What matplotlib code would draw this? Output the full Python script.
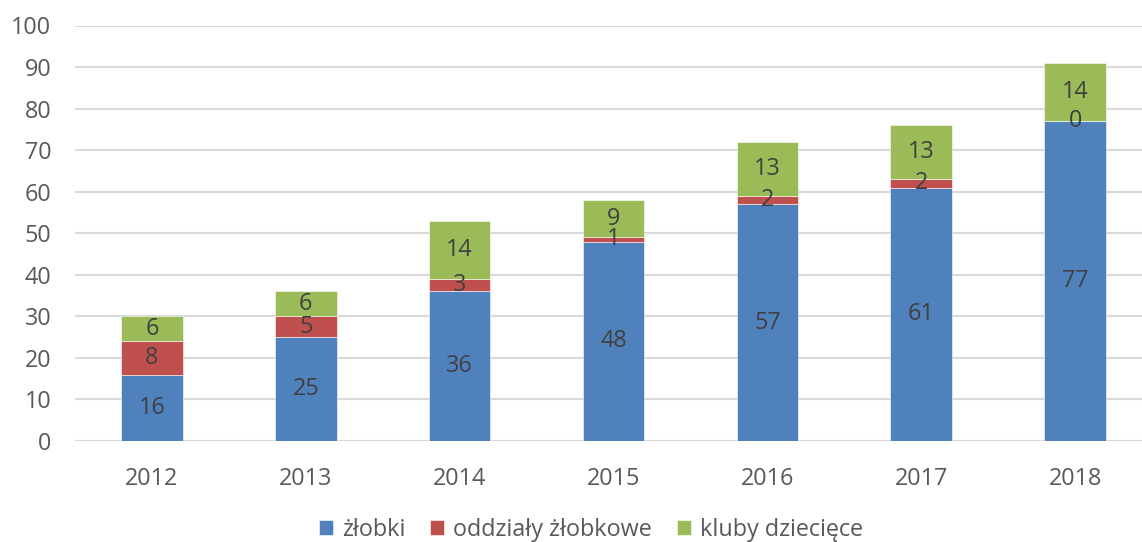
import matplotlib
matplotlib.use("Agg")
import matplotlib.pyplot as plt
import numpy as np

years = ["2012", "2013", "2014", "2015", "2016", "2017", "2018"]
zlobki = [16, 25, 36, 48, 57, 61, 77]
oddzialy = [8, 5, 3, 1, 2, 2, 0]
kluby = [6, 6, 14, 9, 13, 13, 14]
series_names = ["żłobki", "oddziały żłobkowe", "kluby dziecięce"]
colors = ["#4F81BD", "#C0504D", "#9BBB59"]

plt.rcParams["font.family"] = ["Open Sans", "DejaVu Sans"]
FS = 16.8

fig = plt.figure(figsize=(11.42, 5.42), dpi=100)
ax = fig.add_axes([75 / 1142, 1 - 441 / 542, 1077 / 1142, (441 - 25.5) / 542])

x = np.arange(len(years))
bottom = np.zeros(len(years))
for vals, name, col in zip([zlobki, oddzialy, kluby], series_names, colors):
    vals = np.array(vals, dtype=float)
    ax.bar(x, vals, width=0.4, bottom=bottom, color=col, label=name,
           edgecolor="white", linewidth=0.4, zorder=3)
    for xi, b, v in zip(x, bottom, vals):
        ax.text(xi, b + v / 2, f"{int(v)}", ha="center", va="center",
                fontsize=FS, color="#404040", zorder=4)
    bottom += vals

ax.set_xlim(-0.5, len(years) - 0.5)
ax.set_ylim(0, 100)
ax.set_yticks(np.arange(0, 101, 10))
ax.set_xticks(x)
ax.set_xticklabels(years)
ax.tick_params(axis="both", length=0, labelsize=FS, labelcolor="#595959")
ax.tick_params(axis="y", pad=17)
ax.tick_params(axis="x", pad=19)
ax.grid(axis="y", color="#D9D9D9", linewidth=1.5, zorder=0)
for s in ax.spines.values():
    s.set_visible(False)

fig.legend(loc="center", bbox_to_anchor=(591 / 1142, 1 - 530 / 542), ncol=3,
           frameon=False, fontsize=FS, handlelength=0.6, handleheight=0.6,
           handletextpad=0.4, columnspacing=1.05, labelcolor="#595959")

fig.savefig("out.png", dpi=100)
